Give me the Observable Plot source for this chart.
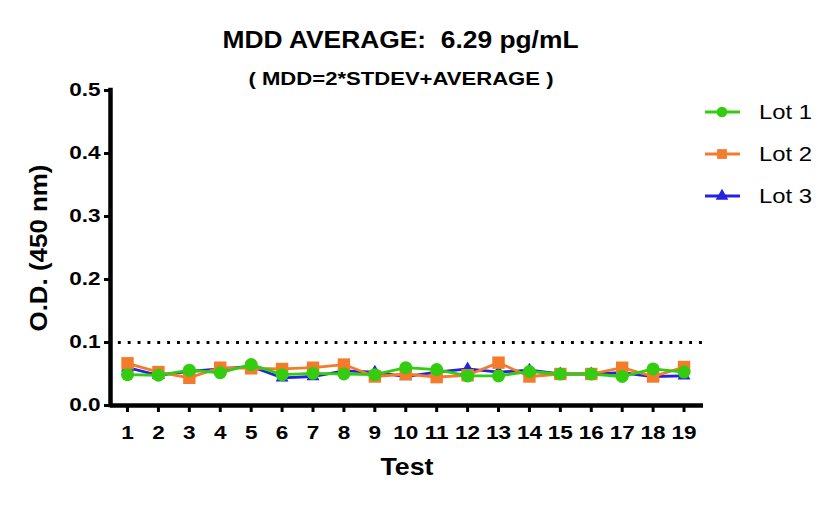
<!DOCTYPE html>
<html><head><meta charset="utf-8">
<script src="https://cdn.jsdelivr.net/npm/d3@7"></script>
<script src="https://cdn.jsdelivr.net/npm/@observablehq/plot@0.6"></script>
<style>html,body{margin:0;padding:0;background:#fff;} #chart{width:839px;height:507px;}</style>
</head><body><div id="chart"></div>
<script>
// ---- data ----
const tests = [1,2,3,4,5,6,7,8,9,10,11,12,13,14,15,16,17,18,19];
const lot1 = [0.049,0.048,0.056,0.052,0.065,0.049,0.051,0.050,0.049,0.060,0.057,0.047,0.047,0.054,0.050,0.050,0.046,0.058,0.053];
const lot2 = [0.067,0.053,0.044,0.060,0.059,0.058,0.060,0.065,0.046,0.050,0.045,0.048,0.068,0.046,0.050,0.050,0.060,0.046,0.061];
const lot3 = [0.060,0.048,0.054,0.058,0.062,0.044,0.046,0.055,0.053,0.046,0.053,0.058,0.053,0.056,0.050,0.050,0.052,0.046,0.047];
const seriesNames = ["Lot 1","Lot 2","Lot 3"];
const seriesColors = ["#33cc11","#f47b2a","#2323e0"];
const threshold = 0.1;
const yTicks = [0,0.1,0.2,0.3,0.4,0.5];
const titleText = "MDD AVERAGE:  6.29 pg/mL";
const subtitleText = "( MDD=2*STDEV+AVERAGE )";
const yLabel = "O.D. (450 nm)";
const xLabel = "Test";

const font = "'Liberation Sans', Arial, Helvetica, sans-serif";
const rows = (vals) => tests.map((t, i) => ({test: t, od: vals[i]}));
const r1 = rows(lot1), r2 = rows(lot2), r3 = rows(lot3);
const xDomain = [0.45, 19.63];

const plot = Plot.plot({
  width: 839, height: 507,
  marginLeft: 110, marginRight: 136, marginTop: 90, marginBottom: 102,
  x: {type: "linear", domain: xDomain},
  y: {domain: [0, 0.5]},
  style: {fontFamily: font, background: "white", overflow: "visible", color: "black"},
  marks: [
    Plot.ruleY([threshold], {x1: 0.75, x2: 19.55, stroke: "black", strokeWidth: 2.8, strokeDasharray: "0.1,9.75", strokeLinecap: "square"}),
    Plot.line(r3, {x: "test", y: "od", stroke: seriesColors[2], strokeWidth: 2.8}),
    Plot.dot(r3, {x: "test", y: "od", symbol: "triangle", fill: seriesColors[2], r: 4.8}),
    Plot.line(r2, {x: "test", y: "od", stroke: seriesColors[1], strokeWidth: 2.8}),
    Plot.dot(r2, {x: "test", y: "od", symbol: "square", fill: seriesColors[1], r: 7}),
    Plot.line(r1, {x: "test", y: "od", stroke: seriesColors[0], strokeWidth: 2.8}),
    Plot.dot(r1, {x: "test", y: "od", symbol: "circle", fill: seriesColors[0], r: 6.5}),
    Plot.axisX({ticks: tests, tickFormat: d => String(d), tickSize: 7, tickPadding: 13, strokeWidth: 3, fontSize: 18.5, fontWeight: "bold", label: null}),
    Plot.axisY({ticks: yTicks, tickFormat: ".1f", tickSize: 6, tickPadding: 4, strokeWidth: 3, fontSize: 18.5, fontWeight: "bold", label: null}),
    Plot.ruleX([xDomain[0]], {y1: 0, y2: 0.5, stroke: "black", strokeWidth: 4.5, strokeLinecap: "square"}),
    Plot.ruleY([0], {stroke: "black", strokeWidth: 4.5}),
    Plot.text([titleText], {frameAnchor: "top", textAnchor: "middle", lineAnchor: "bottom", dy: -43, dx: -6.5, fontSize: 24, fontWeight: "bold", fill: "black"}),
    Plot.text([subtitleText], {frameAnchor: "top", textAnchor: "middle", lineAnchor: "bottom", dy: -6, dx: -6, fontSize: 18.5, fontWeight: "bold", fill: "black"}),
    Plot.text([yLabel], {frameAnchor: "left", textAnchor: "middle", rotate: -90, dx: -71, fontSize: 24, fontWeight: "bold", fill: "black"}),
    Plot.text([xLabel], {frameAnchor: "bottom", textAnchor: "middle", dy: 69, fontSize: 24, fontWeight: "bold", fill: "black"})
  ]
});
document.getElementById("chart").appendChild(plot);

const svg = d3.select(plot);
svg.selectAll("text").filter(function () { return this.textContent === titleText; })
  .attr("textLength", 356).attr("lengthAdjust", "spacingAndGlyphs").style("white-space", "pre");
svg.selectAll("text").filter(function () { return this.textContent === subtitleText; })
  .attr("textLength", 305).attr("lengthAdjust", "spacingAndGlyphs");
svg.selectAll("text").filter(function () { return this.textContent === xLabel; })
  .attr("textLength", 53).attr("lengthAdjust", "spacingAndGlyphs");
svg.selectAll("text").filter(function () { return this.textContent === yLabel; })
  .attr("textLength", 167).attr("lengthAdjust", "spacingAndGlyphs");
// tick labels in the reference are drawn a little wider than the font
svg.selectAll('g[aria-label="x-axis tick label"] text, g[aria-label="y-axis tick label"] text')
  .each(function () {
    const t = this.getAttribute("transform") || "";
    this.setAttribute("transform", t + " scale(1.22,1)");
  });

// legend
const symbols = [d3.symbolCircle, d3.symbolSquare, d3.symbolTriangle];
const symbolSizes = [90, 95, 70];
const legend = svg.append("g").attr("font-family", font);
seriesNames.forEach((name, i) => {
  const y = 112 + 42 * i;
  const g = legend.append("g");
  g.append("line").attr("x1", 705).attr("x2", 740).attr("y1", y).attr("y2", y)
    .attr("stroke", seriesColors[i]).attr("stroke-width", 2.8);
  g.append("path").attr("d", d3.symbol(symbols[i], symbolSizes[i])())
    .attr("transform", `translate(722,${y})`).attr("fill", seriesColors[i]);
  g.append("text").attr("x", 759).attr("y", y).attr("dy", "0.35em")
    .attr("text-anchor", "start").attr("textLength", 53).attr("lengthAdjust", "spacingAndGlyphs")
    .attr("font-size", 20).attr("fill", "black").text(name);
});
</script>
</body></html>
